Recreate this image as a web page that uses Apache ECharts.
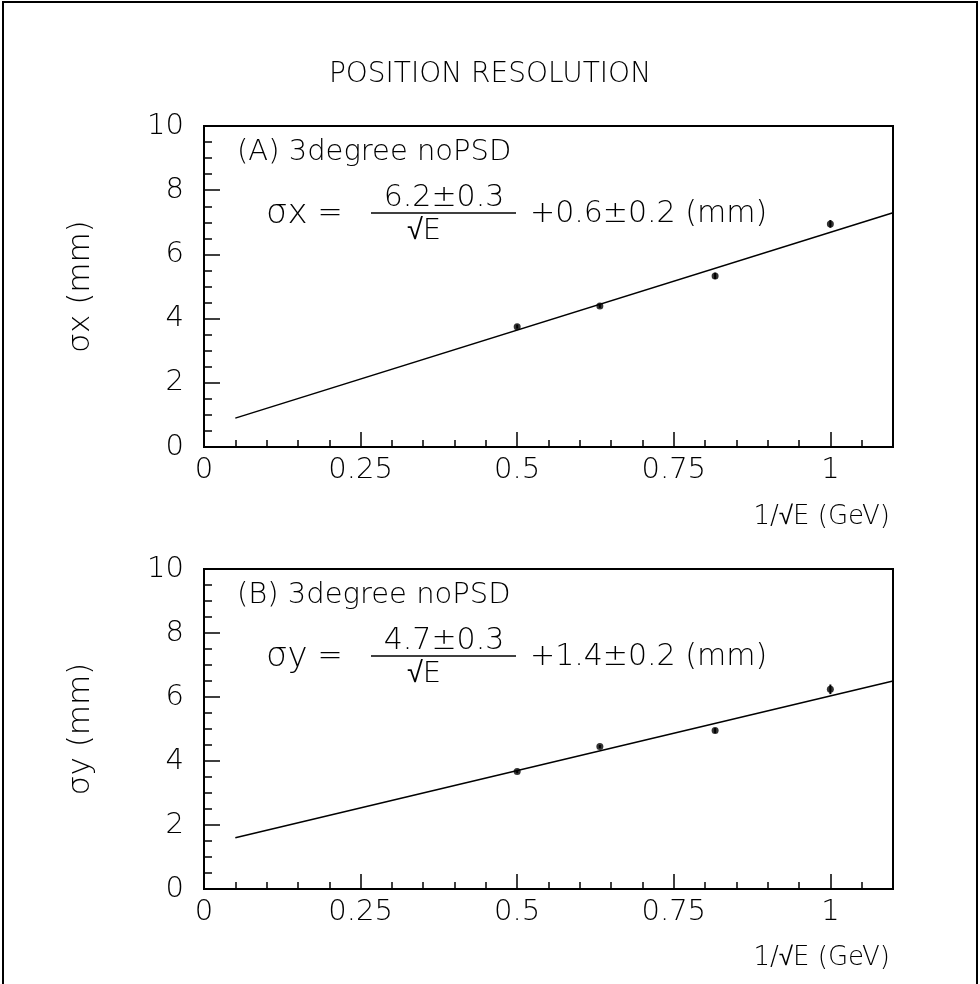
<!DOCTYPE html>
<html lang="en">
<head>
<meta charset="UTF-8">
<title>Position resolution</title>
<script src="https://cdn.jsdelivr.net/npm/echarts@6/dist/echarts.min.js"></script>
<style>
  html, body { margin: 0; padding: 0; background: #fff; }
  #main { width: 980px; height: 984px; }
</style>
</head>
<body>
<div id="main"></div>
<script>
// 1/sqrt(E) for E = 4, 2.5, 1.5, 1 GeV
var invSqrtE = [0.5, 0.632, 0.816, 1.0];

// (A) sigma x in mm, with errors
var sigmaX = [3.75, 4.39, 5.33, 6.95];
var sigmaXErr = [0.06, 0.06, 0.10, 0.12];

// (B) sigma y in mm, with errors
var sigmaY = [3.67, 4.45, 4.95, 6.24];
var sigmaYErr = [0.05, 0.05, 0.08, 0.15];

// fitted lines, end points
var fitX = [0.05, 1.1];
var fitA = [0.9, 7.3];
var fitB = [1.6, 6.5];

var xMajorTicks = [0, 0.25, 0.5, 0.75, 1];

var FONT = '"DejaVu Sans", sans-serif';
var chart = echarts.init(document.getElementById('main'));

function pairs(xs, ys) {
	return xs.map(function (x, i) { return [x, ys[i]]; });
}
function errData(xs, ys, es) {
	return xs.map(function (x, i) { return [x, ys[i] - es[i], ys[i] + es[i]]; });
}

function errorBars(gi, data) {
	return {
		type: 'custom',
		xAxisIndex: gi * 2,
		yAxisIndex: gi,
		data: data,
		silent: true,
		renderItem: function (params, api) {
			var lo = api.coord([api.value(0), api.value(1)]);
			var hi = api.coord([api.value(0), api.value(2)]);
			return {
				type: 'line',
				shape: { x1: lo[0], y1: lo[1], x2: hi[0], y2: hi[1] },
				style: { stroke: '#000', lineWidth: 2 }
			};
		}
	};
}

function xAxes(gi) {
	return [
		{
			type: 'value', gridIndex: gi, position: 'bottom',
			min: 0, max: 1.1, interval: 0.25,
			axisLine: { onZero: false, lineStyle: { color: '#000', width: 2 } },
			axisTick: { inside: true, length: 15, lineStyle: { color: '#000', width: 1.5 } },
			splitLine: { show: false },
			axisLabel: {
				margin: 9, color: '#000', fontSize: 29, fontFamily: FONT, fontWeight: 200,
				formatter: function (v) {
					var r = Math.round(v * 100) / 100;
					return xMajorTicks.indexOf(r) >= 0 ? String(r) : '';
				}
			}
		},
		{
			type: 'value', gridIndex: gi, position: 'bottom',
			min: 0, max: 1.1, interval: 0.05,
			axisLine: { show: false, onZero: false },
			axisTick: { inside: true, length: 7, lineStyle: { color: '#000', width: 1.5 } },
			splitLine: { show: false },
			axisLabel: { show: false }
		}
	];
}

function yAxis(gi, name) {
	return {
		type: 'value', gridIndex: gi,
		min: 0, max: 10, interval: 2,
		name: name, nameLocation: 'middle', nameGap: 108,
		nameTextStyle: { color: '#000', fontSize: 31, fontFamily: FONT, fontWeight: 200 },
		axisLine: { onZero: false, lineStyle: { color: '#000', width: 2 } },
		axisTick: { inside: true, length: 16, lineStyle: { color: '#000', width: 1.5 } },
		minorTick: { show: true, splitNumber: 4, length: 8, lineStyle: { color: '#000', width: 1.5 } },
		splitLine: { show: false },
		axisLabel: { margin: 20, color: '#000', fontSize: 29, fontFamily: FONT, fontWeight: 200 }
	};
}

function txt(x, y, s, size, align) {
	return {
		type: 'text', x: x, y: y,
		style: {
			text: s, fill: '#000', font: '200 ' + size + 'px ' + FONT,
			textAlign: align || 'left', textVerticalAlign: 'middle'
		}
	};
}

// formula block for one panel, top = grid top
function panelText(top, tag, sym, num, rest) {
	return [
		txt(237, top + 26, tag, 29),
		txt(266, top + 88, sym, 34),
		txt(330, top + 88, '=', 30, 'center'),
		txt(444, top + 72, num, 30, 'center'),
		{ type: 'line', shape: { x1: 371, y1: top + 87, x2: 516, y2: top + 87 }, style: { stroke: '#000', lineWidth: 1.5 } },
		txt(424, top + 105, '\u221AE', 29, 'center'),
		txt(530, top + 88, rest, 30)
	];
}

var option = {
	animation: false,
	backgroundColor: '#fff',
	grid: [
		{ left: 204, top: 126, width: 689, height: 321, show: true, borderColor: '#000', borderWidth: 2 },
		{ left: 204, top: 569, width: 689, height: 320, show: true, borderColor: '#000', borderWidth: 2 }
	],
	xAxis: xAxes(0).concat(xAxes(1)),
	yAxis: [yAxis(0, '\u03C3x (mm)'), yAxis(1, '\u03C3y (mm)')],
	series: [
		{
			type: 'line', xAxisIndex: 0, yAxisIndex: 0, data: pairs(fitX, fitA),
			symbol: 'none', lineStyle: { color: '#000', width: 1.5 }
		},
		errorBars(0, errData(invSqrtE, sigmaX, sigmaXErr)),
		{
			type: 'scatter', xAxisIndex: 0, yAxisIndex: 0, data: pairs(invSqrtE, sigmaX),
			symbolSize: 7, itemStyle: { color: '#000' }
		},
		{
			type: 'line', xAxisIndex: 2, yAxisIndex: 1, data: pairs(fitX, fitB),
			symbol: 'none', lineStyle: { color: '#000', width: 1.5 }
		},
		errorBars(1, errData(invSqrtE, sigmaY, sigmaYErr)),
		{
			type: 'scatter', xAxisIndex: 2, yAxisIndex: 1, data: pairs(invSqrtE, sigmaY),
			symbolSize: 7, itemStyle: { color: '#000' }
		}
	],
	graphic: [
		{ type: 'rect', shape: { x: 3, y: 2, width: 974, height: 990 }, style: { fill: 'none', stroke: '#000', lineWidth: 2 } },
		txt(490, 75, 'POSITION RESOLUTION', 28, 'center'),
		txt(890, 517, '1/\u221AE (GeV)', 26, 'right'),
		txt(890, 958, '1/\u221AE (GeV)', 26, 'right')
	].concat(
		panelText(126, '(A) 3degree noPSD', '\u03C3x', '6.2\u00B10.3', '+0.6\u00B10.2 (mm)'),
		panelText(569, '(B) 3degree noPSD', '\u03C3y', '4.7\u00B10.3', '+1.4\u00B10.2 (mm)')
	)
};

chart.setOption(option);
</script>
</body>
</html>
